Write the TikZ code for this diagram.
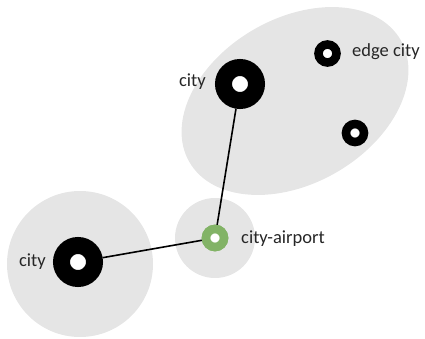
\documentclass[tikz,border=0pt]{standalone}
\usepackage{fontspec}
\setmainfont{Carlito}
\definecolor{zone}{RGB}{229,229,229}
\definecolor{airgreen}{RGB}{130,179,102}
\tikzset{
  zonebg/.style={fill=zone, draw=none},
  bigcity/.style={circle, draw=black, fill=white, line width=17pt, minimum size=33pt, inner sep=0pt},
  smallcity/.style={circle, draw=black, fill=white, line width=8.6pt, minimum size=18pt, inner sep=0pt},
  airport/.style={circle, draw=airgreen, fill=white, line width=8.6pt, minimum size=18pt, inner sep=0pt},
  lbl/.style={font=\fontsize{18.5}{22}\selectfont, text=black!85, inner sep=0pt},
  link/.style={line width=1.6pt, black}
}
\begin{document}
\begin{tikzpicture}[x=1pt,y=-1pt]
\useasboundingbox (0,0) rectangle (425,339);
% zones
\fill[zonebg] (80,264) circle (73);
\fill[zonebg] (215,238) circle (40);
\fill[zonebg, rotate around={30:(295,101)}] (295,101) ellipse (122 and 82.5);
% nodes
\node[bigcity] (cityL) at (78,262) {};
\node[bigcity] (cityT) at (240,84) {};
\node[airport] (air) at (215,238) {};
\node[smallcity] (edge) at (327.5,53.5) {};
\node[smallcity] (sat) at (355,133) {};
% links
\draw[link] (cityT) -- (air);
\draw[link] (cityL) -- (air);
\node[airport] at (air) {};
% labels
\node[lbl, anchor=east] (lcityL) at (46,262) {city};
\node[lbl, anchor=east] (lcityT) at (206,82) {city};
\node[lbl, anchor=west] (ledge) at (352,52) {edge city};
\node[lbl, anchor=west] (lair) at (241,239) {city-airport};
\end{tikzpicture}
\end{document}
